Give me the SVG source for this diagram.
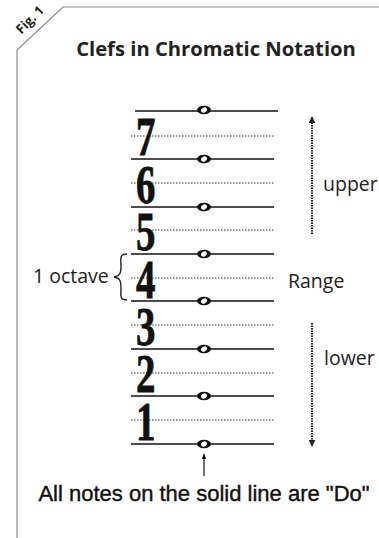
<svg xmlns="http://www.w3.org/2000/svg" width="379" height="538" viewBox="0 0 379 538">
<style>
.frame{fill:none;stroke:#8a8a8a;stroke-width:1.2}
.solid{stroke:#111;stroke-width:1.6}
.dot{stroke:#333;stroke-width:1;stroke-dasharray:1.5 1.5}
.num{font-family:"Liberation Serif",serif;font-weight:bold;font-size:54px;fill:#111;stroke:#111;stroke-width:0.8}
.lbl{font-family:"Open Sans","Liberation Sans",sans-serif;font-size:19.5px;fill:#222}
.rng{stroke:#222;stroke-width:2;stroke-dasharray:1.5 1;fill:none}
</style>
<defs>
<g id="note">
<ellipse cx="0" cy="0" rx="7" ry="4.2" fill="#111"/>
<ellipse cx="0" cy="0" rx="3.2" ry="2.4" fill="#fff" transform="rotate(-35)"/>
</g>
<marker id="ah" viewBox="0 0 10 10" refX="9" refY="5" markerWidth="7" markerHeight="7" orient="auto" markerUnits="userSpaceOnUse"><path d="M0,0 L10,5 L0,10 z" fill="#222"/></marker>
<marker id="ah2" viewBox="0 0 10 10" refX="9" refY="5" markerWidth="6" markerHeight="6" orient="auto" markerUnits="userSpaceOnUse"><path d="M0,1 L10,5 L0,9 z" fill="#111"/></marker>
</defs>
<g id="frame">
<path class="frame" d="M17,538 L17,50 L63,7 L379,7"/>
<text transform="translate(33,23) rotate(-45)" text-anchor="middle" font-family="Open Sans,Liberation Sans,sans-serif" font-weight="bold" font-size="13" fill="#222">Fig. 1</text>
</g>
<g id="title"><text x="216" y="56" text-anchor="middle" font-family="Open Sans,Liberation Sans,sans-serif" font-weight="bold" font-size="20.2" fill="#222">Clefs in Chromatic Notation</text></g>
<g id="staff">
<line class="solid" x1="135" y1="111" x2="278" y2="111"/>
<line class="solid" x1="131" y1="159" x2="274" y2="159"/>
<line class="solid" x1="131" y1="207" x2="274" y2="207"/>
<line class="solid" x1="131" y1="254" x2="274" y2="254"/>
<line class="solid" x1="131" y1="301" x2="274" y2="301"/>
<line class="solid" x1="131" y1="349" x2="274" y2="349"/>
<line class="solid" x1="131" y1="396" x2="274" y2="396"/>
<line class="solid" x1="131" y1="444" x2="274" y2="444"/>
<line class="dot" x1="131" y1="136" x2="275" y2="136"/>
<line class="dot" x1="131" y1="183" x2="275" y2="183"/>
<line class="dot" x1="131" y1="230" x2="275" y2="230"/>
<line class="dot" x1="131" y1="278" x2="275" y2="278"/>
<line class="dot" x1="131" y1="325" x2="275" y2="325"/>
<line class="dot" x1="131" y1="373" x2="275" y2="373"/>
<line class="dot" x1="131" y1="420" x2="275" y2="420"/>
</g>
<g id="notes">
<use href="#note" x="204" y="110"/>
<use href="#note" x="204" y="159"/>
<use href="#note" x="204" y="207"/>
<use href="#note" x="204" y="254"/>
<use href="#note" x="204" y="301"/>
<use href="#note" x="204" y="349"/>
<use href="#note" x="204" y="396"/>
<use href="#note" x="204" y="444"/>
</g>
<g id="numerals">
<text class="num" transform="translate(136,155) scale(0.72,1)">7</text>
<text class="num" transform="translate(136,203) scale(0.72,1)">6</text>
<text class="num" transform="translate(136,250) scale(0.72,1)">5</text>
<text class="num" transform="translate(136,298) scale(0.72,1)">4</text>
<text class="num" transform="translate(136,345) scale(0.72,1)">3</text>
<text class="num" transform="translate(136,392) scale(0.72,1)">2</text>
<text class="num" transform="translate(136,440) scale(0.72,1)">1</text>
</g>
<g id="octave">
<text class="lbl" x="33" y="283">1 octave</text>
<path d="M127,254 C119,254 121,259 121,266 C121,273 120,276 114,277 C120,278 121,281 121,288 C121,295 119,300 127,300" fill="none" stroke="#222" stroke-width="1.4"/>
</g>
<g id="range">
<text class="lbl" x="288" y="288">Range</text>
<text class="lbl" x="323" y="191">upper</text>
<text class="lbl" x="324" y="365">lower</text>
</g>
<g id="connectors">
<line class="rng" x1="312" y1="234" x2="312" y2="117" marker-end="url(#ah)"/>
<line class="rng" x1="312" y1="323" x2="312" y2="446" marker-end="url(#ah)"/>
<line x1="204" y1="476" x2="204" y2="454" stroke="#111" stroke-width="1.2" marker-end="url(#ah2)"/>
</g>
<g id="caption"><text x="204" y="501" text-anchor="middle" font-family="Liberation Sans,Arial,sans-serif" font-size="22" fill="#111" stroke="#111" stroke-width="0.4">All notes on the solid line are "Do"</text></g>
</svg>
